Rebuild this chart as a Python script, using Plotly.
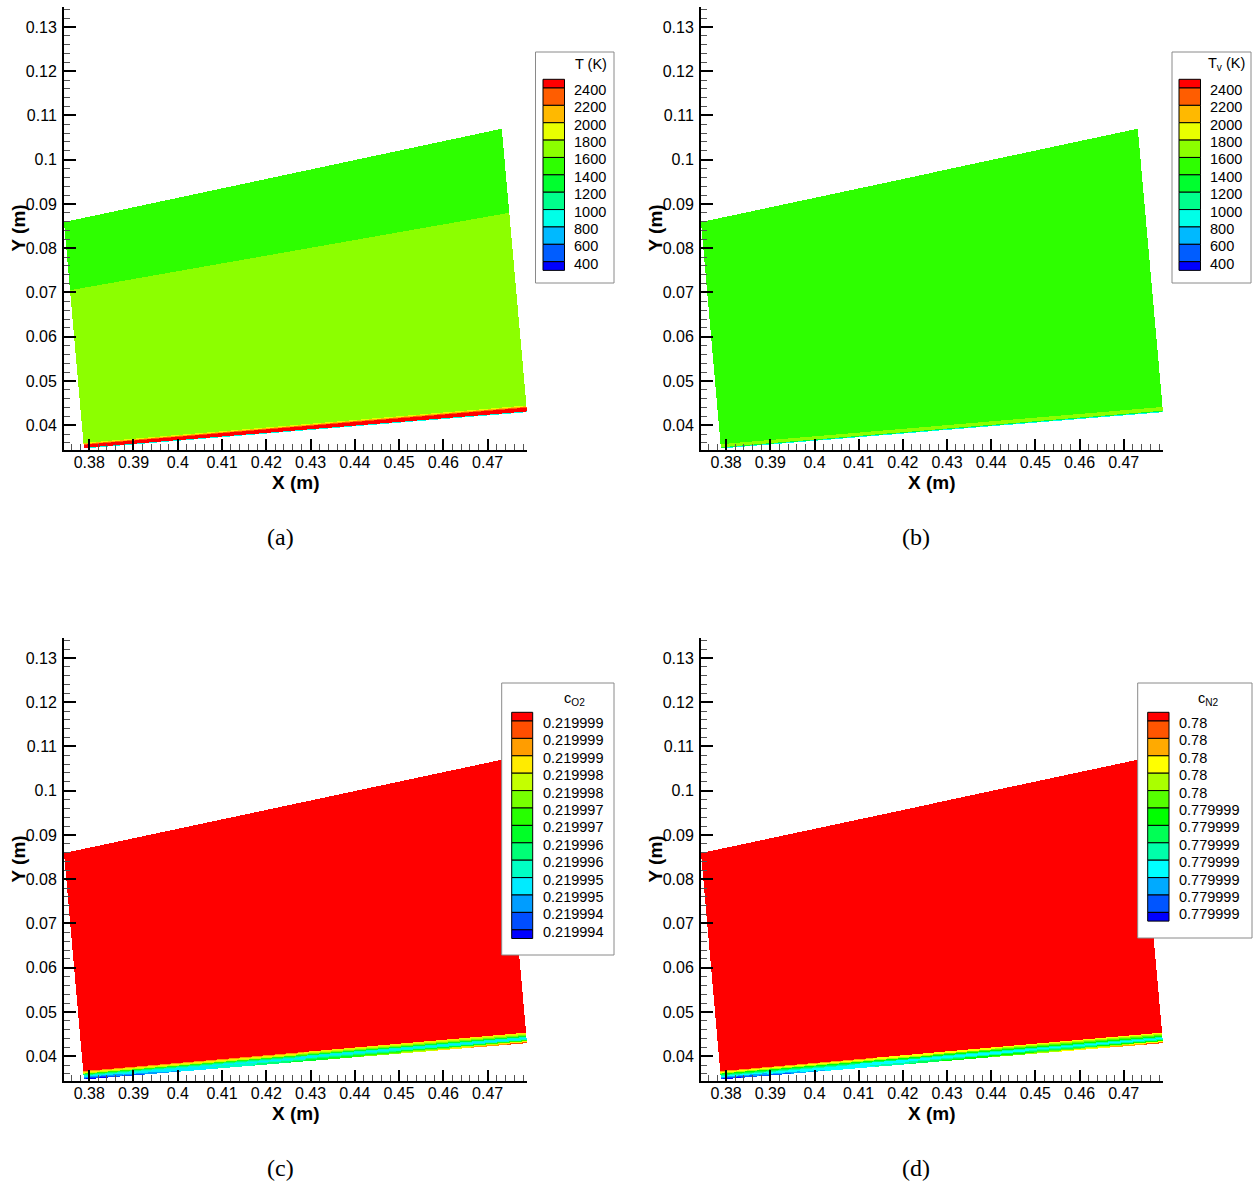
import numpy as np
import plotly.graph_objects as go

# ---------------- figure size (px) ----------------
W, H = 1255, 1183

# ---------------- geometry of the computational domain (m) ----------------
# corners: wall start, wall end, top-right, top-left
DOMAIN_X = [0.3788, 0.4789, 0.4732, 0.3743]
DOMAIN_Y = [0.0348, 0.0430, 0.1070, 0.0859]
# discontinuity line seen in the T field (panel a)
SHOCK_X = [0.3756, 0.4749]
SHOCK_Y = [0.0705, 0.0880]
# thickness of the thin near-wall layers at wall start / wall end
BL_X = [0.3788, 0.4789]
BL_THICK_T = [0.0014, 0.0017]       # temperature layer
BL_THICK_C = [0.0019, 0.0024]       # species layer
# band edges across the layer (fraction of its thickness, wall -> edge)
BL_ETA = [0.0, 0.1, 0.2, 0.3, 0.4, 0.5, 0.6, 0.7, 0.8, 0.9, 1.0]

# ---------------- axes ----------------
X_RANGE = [0.3743, 0.4789]
Y_RANGE = [0.0344, 0.1345]
X_TICKS = [0.38, 0.39, 0.40, 0.41, 0.42, 0.43, 0.44, 0.45, 0.46, 0.47]
X_TICK_TEXT = ["0.38", "0.39", "0.4", "0.41", "0.42", "0.43", "0.44", "0.45", "0.46", "0.47"]
Y_TICKS = [0.04, 0.05, 0.06, 0.07, 0.08, 0.09, 0.10, 0.11, 0.12, 0.13]
Y_TICK_TEXT = ["0.04", "0.05", "0.06", "0.07", "0.08", "0.09", "0.1", "0.11", "0.12", "0.13"]

# ---------------- panel (a): translational temperature T (K) ----------------
T_LEVELS = [400, 600, 800, 1000, 1200, 1400, 1600, 1800, 2000, 2200, 2400]
T_LABELS = ["400", "600", "800", "1000", "1200", "1400", "1600", "1800", "2000", "2200", "2400"]
T_OUTER = 1500          # above the discontinuity line
T_INNER = 1700          # below it
T_BL = [900, 2500, 2500, 2500, 2500, 2500, 2300, 2100, 1900, 1700]   # wall -> edge

# ---------------- panel (b): vibrational temperature Tv (K) ----------------
TV_CORE = 1500
TV_BL = [900, 1300, 1700, 1700, 1700, 1700, 1700, 1500, 1500, 1500]

# ---------------- panel (c): O2 mass fraction ----------------
O2_LEVELS = [0.2199940, 0.21999445, 0.2199949, 0.21999535, 0.2199958, 0.21999625, 0.2199967,
             0.21999715, 0.2199976, 0.21999805, 0.2199985, 0.21999895, 0.2199994]
O2_LABELS = ["0.219994", "0.219994", "0.219995", "0.219995", "0.219996", "0.219996", "0.219997",
             "0.219997", "0.219998", "0.219998", "0.219999", "0.219999", "0.219999"]
O2_CORE = 0.2200000
O2_BL_START = [0.2199937, 0.2199942, 0.2199947, 0.2199951, 0.2199956, 0.2199960, 0.2199969,
               0.2199978, 0.2199983, 0.2199987]
O2_BL_END = [0.2199992, 0.2199983, 0.2199969, 0.2199956, 0.2199951, 0.2199956, 0.2199965,
             0.2199974, 0.2199978, 0.2199983]

# ---------------- panel (d): N2 mass fraction ----------------
N2_LEVELS = [0.7799986, 0.77999874, 0.77999888, 0.77999902, 0.77999916, 0.7799993,
             0.77999944, 0.77999958, 0.77999972, 0.77999986, 0.78, 0.78000014]
N2_LABELS = ["0.779999", "0.779999", "0.779999", "0.779999", "0.779999", "0.779999",
             "0.779999", "0.78", "0.78", "0.78", "0.78", "0.78"]
N2_CORE = 0.7800002
N2_BL_START = [0.7799985, 0.77999867, 0.77999881, 0.77999895, 0.77999909, 0.77999923,
               0.77999937, 0.77999965, 0.77999979, 0.77999993]
N2_BL_END = [0.78000007, 0.77999979, 0.77999937, 0.77999909, 0.77999895, 0.77999909,
             0.77999937, 0.77999951, 0.77999965, 0.77999979]

# ---------------- colour maps (bottom -> top) ----------------
COLORS_12 = ["#0000ff", "#005dff", "#00b9ff", "#00ffe8", "#00ff8c", "#00ff2e",
             "#2eff00", "#8cff00", "#e8ff00", "#ffb900", "#ff5d00", "#ff0000"]
COLORS_14 = ["#0000ff", "#004eff", "#009dff", "#00ebff", "#00ffc4", "#00ff76", "#00ff27",
             "#27ff00", "#76ff00", "#c4ff00", "#ffeb00", "#ff9d00", "#ff4e00", "#ff0000"]
COLORS_13 = ["#0000ff", "#0055ff", "#00aaff", "#00ffff", "#00ffaa", "#00ff55", "#00ff00",
             "#55ff00", "#aaff00", "#ffff00", "#ffaa00", "#ff5500", "#ff0000"]

# ---------------- subplot placement (px) ----------------
COL_X = {1: (64, 527), 2: (701, 1163)}
ROW_Y = {1: (7, 450), 2: (638, 1081)}

# ---------------- sampling grid (pixel aligned, half pixel near the wall) ----------------
PX_X = (X_RANGE[1] - X_RANGE[0]) / (COL_X[1][1] - COL_X[1][0])
PX_Y = (Y_RANGE[1] - Y_RANGE[0]) / (ROW_Y[1][1] - ROW_Y[1][0])
xc = X_RANGE[0] + (np.arange(COL_X[1][1] - COL_X[1][0]) + 0.5) * PX_X
n_fine = int(np.ceil((0.0470 - Y_RANGE[0]) / PX_Y))
y_fine = Y_RANGE[0] + (np.arange(2 * n_fine) + 0.5) * PX_Y / 2
n_all = int(np.ceil((0.1080 - Y_RANGE[0]) / PX_Y))
y_coarse = Y_RANGE[0] + (np.arange(n_fine, n_all) + 0.5) * PX_Y
yc = np.concatenate([y_fine, y_coarse])
XX, YY = np.meshgrid(xc, yc)


def lin(x, xs, ys):
    return ys[0] + (ys[1] - ys[0]) * (x - xs[0]) / (xs[1] - xs[0])


def inside_domain(X, Y):
    ok = np.ones_like(X, dtype=bool)
    n = len(DOMAIN_X)
    for i in range(n):
        x0, y0 = DOMAIN_X[i], DOMAIN_Y[i]
        x1, y1 = DOMAIN_X[(i + 1) % n], DOMAIN_Y[(i + 1) % n]
        ok &= ((x1 - x0) * (Y - y0) - (y1 - y0) * (X - x0)) >= 0
    return ok


INSIDE = inside_domain(XX, YY)
WALL = lin(XX, DOMAIN_X[:2], DOMAIN_Y[:2])
S = np.clip((XX - BL_X[0]) / (BL_X[1] - BL_X[0]), 0, 1)


def field(core, thick, bl_start, bl_end=None):
    eta = (YY - WALL) / lin(XX, BL_X, thick)
    band = np.clip(np.searchsorted(BL_ETA, eta, side="right") - 1, 0, len(BL_ETA) - 2)
    b0 = np.asarray(bl_start, dtype=float)[band]
    b1 = b0 if bl_end is None else np.asarray(bl_end, dtype=float)[band]
    bl = b0 * (1 - S) + b1 * S
    z = np.where(eta < 1.0, bl, core)
    z = np.where(INSIDE, z, np.nan)
    return z


def discrete_scale(levels, colors):
    lv = list(levels)
    zmin = lv[0] - (lv[1] - lv[0]) / 2
    zmax = lv[-1] + (lv[-1] - lv[-2]) / 2
    bounds = [zmin] + lv + [zmax]
    cs = []
    for k, c in enumerate(colors):
        p0 = (bounds[k] - zmin) / (zmax - zmin)
        p1 = (bounds[k + 1] - zmin) / (zmax - zmin)
        cs.append([max(0.0, min(1.0, p0)), c])
        cs.append([max(0.0, min(1.0, p1)), c])
    cs[0][0] = 0.0
    cs[-1][0] = 1.0
    return cs, zmin, zmax


core_a = np.where(YY > lin(XX, SHOCK_X, SHOCK_Y), T_OUTER, T_INNER)
Z_A = field(core_a, BL_THICK_T, T_BL)
Z_B = field(TV_CORE, BL_THICK_T, TV_BL)
Z_C = field(O2_CORE, BL_THICK_C, O2_BL_START, O2_BL_END)
Z_D = field(N2_CORE, BL_THICK_C, N2_BL_START, N2_BL_END)

panels = [
    (Z_A, T_LEVELS, COLORS_12, 1, 1),
    (Z_B, T_LEVELS, COLORS_12, 1, 2),
    (Z_C, O2_LEVELS, COLORS_14, 2, 1),
    (Z_D, N2_LEVELS, COLORS_13, 2, 2),
]

fig = go.Figure()

axis_font = dict(family="Liberation Sans, Arial, sans-serif", size=16, color="black")

for i, (z, levels, colors, row, col) in enumerate(panels):
    n = i + 1
    xa = "x" if n == 1 else f"x{n}"
    ya = "y" if n == 1 else f"y{n}"
    cs, zmin, zmax = discrete_scale(levels, colors)
    fig.add_trace(go.Heatmap(
        x=xc, y=yc, z=z.astype(np.float32), colorscale=cs, zmin=zmin, zmax=zmax,
        zsmooth=False, showscale=False, hoverinfo="skip", xaxis=xa, yaxis=ya))
    x0, x1 = COL_X[col]
    y0, y1 = ROW_Y[row]
    xkey = "xaxis" if n == 1 else f"xaxis{n}"
    ykey = "yaxis" if n == 1 else f"yaxis{n}"
    fig.layout[xkey] = dict(
        domain=[x0 / W, x1 / W], anchor=ya, range=X_RANGE, showgrid=False, zeroline=False,
        showline=True, linecolor="black", linewidth=2, ticks="inside", ticklen=11,
        tickwidth=2, tickcolor="black", tickmode="array", tickvals=X_TICKS,
        ticktext=X_TICK_TEXT, tickfont=axis_font, ticklabelstandoff=-3,
        minor=dict(ticks="inside", ticklen=6, tickwidth=1, tickcolor="#555",
                   tick0=0.0, dtick=0.002, showgrid=False))
    fig.layout[ykey] = dict(
        domain=[1 - y1 / H, 1 - y0 / H], anchor=xa, range=Y_RANGE, showgrid=False,
        zeroline=False, showline=True, linecolor="black", linewidth=2, ticks="inside",
        ticklen=12, tickwidth=2, tickcolor="black", tickmode="array", tickvals=Y_TICKS,
        ticktext=Y_TICK_TEXT, tickfont=axis_font, ticklabelstandoff=2,
        minor=dict(ticks="inside", ticklen=6, tickwidth=1, tickcolor="#555",
                   tick0=0.0, dtick=0.002, showgrid=False))

shapes = []
annots = []


def P(x, y):
    return x / W, 1 - y / H


LEG_FONT = dict(family="Liberation Sans, Arial, sans-serif", size=14.5, color="black")


def add_legend(box, title, title_xy, bar_x, bar_top, block_h, colors, labels, label_x):
    bx0, by0 = P(box[0], box[1])
    bx1, by1 = P(box[2], box[3])
    shapes.append(dict(type="rect", xref="paper", yref="paper", x0=bx0, y0=by1, x1=bx1, y1=by0,
                       line=dict(color="#8a8a8a", width=1), fillcolor="white", layer="above"))
    tx, ty = P(*title_xy)
    annots.append(dict(xref="paper", yref="paper", x=tx, y=ty, text=title, showarrow=False,
                       xanchor="center", yanchor="middle", font=LEG_FONT))
    top_down = list(reversed(colors))
    nb = len(top_down)
    heights = [block_h / 2] + [block_h] * (nb - 2) + [block_h / 2]
    y = bar_top
    bounds = []
    for k, c in enumerate(top_down):
        h = heights[k]
        xa0, ya0 = P(bar_x[0], y)
        xa1, ya1 = P(bar_x[1], y + h)
        shapes.append(dict(type="rect", xref="paper", yref="paper", x0=xa0, y0=ya1, x1=xa1, y1=ya0,
                           line=dict(color="black", width=1), fillcolor=c, layer="above"))
        y += h
        if k < nb - 1:
            bounds.append(y)
    for yb, lab in zip(bounds, list(reversed(labels))):
        lx, ly = P(label_x, yb + 2)
        annots.append(dict(xref="paper", yref="paper", x=lx, y=ly, text=lab, showarrow=False,
                           xanchor="left", yanchor="middle", font=LEG_FONT, borderpad=0))


add_legend((535.5, 52, 614, 283), "T (K)", (591, 64), (543, 564.5), 79.3, 17.37,
           COLORS_12, T_LABELS, 573)
add_legend((1172, 52, 1251, 283), "T<sub>v</sub> (K)", (1226, 64), (1179, 1200.5), 79.3, 17.37,
           COLORS_12, T_LABELS, 1209)
add_legend((501.7, 683, 614, 955), "c<sub>O2</sub>", (574, 699), (511.7, 532.7), 712.3, 17.4,
           COLORS_14, O2_LABELS, 542)
add_legend((1137.7, 683, 1252, 938), "c<sub>N2</sub>", (1208, 699), (1147.7, 1169), 712.3, 17.4,
           COLORS_13, N2_LABELS, 1178)

title_font = dict(family="Liberation Sans, Arial, sans-serif", size=19, color="black")
cap_font = dict(family="Liberation Serif, DejaVu Serif, serif", size=24, color="black")
CAPTIONS = {(1, 1): "(a)", (1, 2): "(b)", (2, 1): "(c)", (2, 2): "(d)"}
for col in (1, 2):
    for row in (1, 2):
        x0, x1 = COL_X[col]
        y0, y1 = ROW_Y[row]
        cx = (x0 + x1) / 2
        ax, ay = P(cx, y1 + 32)
        annots.append(dict(xref="paper", yref="paper", x=ax, y=ay, text="<b>X (m)</b>",
                           showarrow=False, xanchor="center", yanchor="middle", font=title_font))
        yx, yy = P(x0 - 46, (y0 + y1) / 2)
        annots.append(dict(xref="paper", yref="paper", x=yx, y=yy, text="<b>Y (m)</b>",
                           showarrow=False, xanchor="center", yanchor="middle", textangle=-90,
                           font=title_font))
        cxp, cyp = P(cx - 15 if col == 1 else cx - 16, y1 + 87)
        annots.append(dict(xref="paper", yref="paper", x=cxp, y=cyp, text=CAPTIONS[(row, col)],
                           showarrow=False, xanchor="center", yanchor="middle", font=cap_font))

fig.update_layout(
    width=W, height=H, autosize=False, margin=dict(l=0, r=0, t=0, b=0),
    paper_bgcolor="white", plot_bgcolor="white", showlegend=False,
    shapes=shapes, annotations=annots)

fig.write_html("out.html")
